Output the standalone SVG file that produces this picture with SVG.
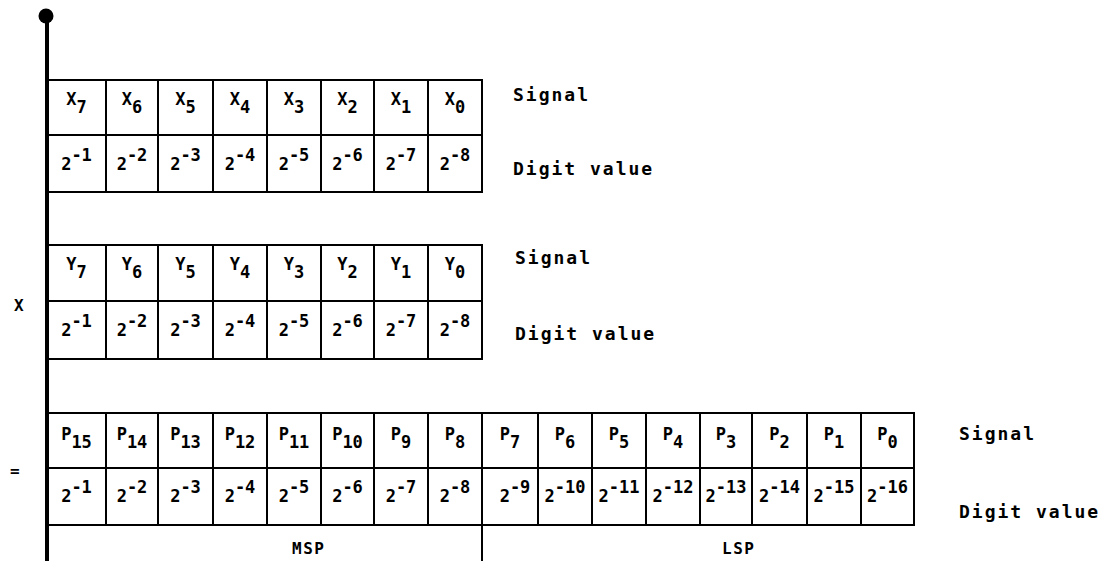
<svg xmlns="http://www.w3.org/2000/svg" width="1105" height="561" viewBox="0 0 1105 561">
<style>
.grid{fill:none;stroke:#000;stroke-width:2}
.t{font-family:"DejaVu Sans Mono","Liberation Mono",monospace;font-weight:bold;fill:#000}
.c{font-size:17px;text-anchor:middle}
.lab{font-size:18px;letter-spacing:2px}
.small{font-size:16px;letter-spacing:1.5px}
</style>
<rect width="1105" height="561" fill="#fff"/>
<g id="connectors">
<circle cx="46" cy="16" r="7.5" fill="#000"/>
<line x1="47" y1="16" x2="47" y2="561" stroke="#000" stroke-width="4"/>
<line x1="482" y1="525" x2="482" y2="561" stroke="#000" stroke-width="2"/>
</g>
<g id="x-register">
<rect class="grid" x="47" y="80" width="435" height="112"/>
<path class="grid" d="M47 135H482M106 80V192M158 80V192M213 80V192M267 80V192M321 80V192M374 80V192M428 80V192"/>
<g class="t c">
<text x="76.5" y="105">X<tspan dy="8">7</tspan></text>
<text x="132" y="105">X<tspan dy="8">6</tspan></text>
<text x="185.5" y="105">X<tspan dy="8">5</tspan></text>
<text x="240" y="105">X<tspan dy="8">4</tspan></text>
<text x="294" y="105">X<tspan dy="8">3</tspan></text>
<text x="347.5" y="105">X<tspan dy="8">2</tspan></text>
<text x="401" y="105">X<tspan dy="8">1</tspan></text>
<text x="455" y="105">X<tspan dy="8">0</tspan></text>
<text x="76.5" y="170">2<tspan dy="-9">-1</tspan></text>
<text x="132" y="170">2<tspan dy="-9">-2</tspan></text>
<text x="185.5" y="170">2<tspan dy="-9">-3</tspan></text>
<text x="240" y="170">2<tspan dy="-9">-4</tspan></text>
<text x="294" y="170">2<tspan dy="-9">-5</tspan></text>
<text x="347.5" y="170">2<tspan dy="-9">-6</tspan></text>
<text x="401" y="170">2<tspan dy="-9">-7</tspan></text>
<text x="455" y="170">2<tspan dy="-9">-8</tspan></text>
</g>
</g>
<g id="x-labels" class="t lab">
<text x="513" y="101">Signal</text>
<text x="513" y="175">Digit value</text>
</g>
<g id="y-register">
<rect class="grid" x="47" y="245" width="435" height="114"/>
<path class="grid" d="M47 301H482M106 245V359M158 245V359M213 245V359M267 245V359M321 245V359M374 245V359M428 245V359"/>
<g class="t c">
<text x="76.5" y="270">Y<tspan dy="8">7</tspan></text>
<text x="132" y="270">Y<tspan dy="8">6</tspan></text>
<text x="185.5" y="270">Y<tspan dy="8">5</tspan></text>
<text x="240" y="270">Y<tspan dy="8">4</tspan></text>
<text x="294" y="270">Y<tspan dy="8">3</tspan></text>
<text x="347.5" y="270">Y<tspan dy="8">2</tspan></text>
<text x="401" y="270">Y<tspan dy="8">1</tspan></text>
<text x="455" y="270">Y<tspan dy="8">0</tspan></text>
<text x="76.5" y="336">2<tspan dy="-9">-1</tspan></text>
<text x="132" y="336">2<tspan dy="-9">-2</tspan></text>
<text x="185.5" y="336">2<tspan dy="-9">-3</tspan></text>
<text x="240" y="336">2<tspan dy="-9">-4</tspan></text>
<text x="294" y="336">2<tspan dy="-9">-5</tspan></text>
<text x="347.5" y="336">2<tspan dy="-9">-6</tspan></text>
<text x="401" y="336">2<tspan dy="-9">-7</tspan></text>
<text x="455" y="336">2<tspan dy="-9">-8</tspan></text>
</g>
</g>
<g id="y-labels" class="t lab">
<text x="515" y="264">Signal</text>
<text x="515" y="340">Digit value</text>
</g>
<g id="p-register">
<rect class="grid" x="47" y="413" width="867" height="112"/>
<path class="grid" d="M47 468H914M106 413V525M158 413V525M213 413V525M267 413V525M321 413V525M374 413V525M428 413V525M482 413V525M538 413V525M592 413V525M646 413V525M700 413V525M752 413V525M807 413V525M861 413V525"/>
<g class="t c">
<text x="76.5" y="440">P<tspan dy="8">15</tspan></text>
<text x="132" y="440">P<tspan dy="8">14</tspan></text>
<text x="185.5" y="440">P<tspan dy="8">13</tspan></text>
<text x="240" y="440">P<tspan dy="8">12</tspan></text>
<text x="294" y="440">P<tspan dy="8">11</tspan></text>
<text x="347.5" y="440">P<tspan dy="8">10</tspan></text>
<text x="401" y="440">P<tspan dy="8">9</tspan></text>
<text x="455" y="440">P<tspan dy="8">8</tspan></text>
<text x="510" y="440">P<tspan dy="8">7</tspan></text>
<text x="565" y="440">P<tspan dy="8">6</tspan></text>
<text x="619" y="440">P<tspan dy="8">5</tspan></text>
<text x="673" y="440">P<tspan dy="8">4</tspan></text>
<text x="726" y="440">P<tspan dy="8">3</tspan></text>
<text x="779.5" y="440">P<tspan dy="8">2</tspan></text>
<text x="834" y="440">P<tspan dy="8">1</tspan></text>
<text x="887.5" y="440">P<tspan dy="8">0</tspan></text>
<text x="76.5" y="502">2<tspan dy="-9">-1</tspan></text>
<text x="132" y="502">2<tspan dy="-9">-2</tspan></text>
<text x="185.5" y="502">2<tspan dy="-9">-3</tspan></text>
<text x="240" y="502">2<tspan dy="-9">-4</tspan></text>
<text x="294" y="502">2<tspan dy="-9">-5</tspan></text>
<text x="347.5" y="502">2<tspan dy="-9">-6</tspan></text>
<text x="401" y="502">2<tspan dy="-9">-7</tspan></text>
<text x="455" y="502">2<tspan dy="-9">-8</tspan></text>
<text x="515" y="502">2<tspan dy="-9">-9</tspan></text>
<text x="565" y="502">2<tspan dy="-9">-10</tspan></text>
<text x="619" y="502">2<tspan dy="-9">-11</tspan></text>
<text x="673" y="502">2<tspan dy="-9">-12</tspan></text>
<text x="726" y="502">2<tspan dy="-9">-13</tspan></text>
<text x="779.5" y="502">2<tspan dy="-9">-14</tspan></text>
<text x="834" y="502">2<tspan dy="-9">-15</tspan></text>
<text x="887.5" y="502">2<tspan dy="-9">-16</tspan></text>
</g>
</g>
<g id="p-labels" class="t lab">
<text x="959" y="440">Signal</text>
<text x="959" y="518">Digit value</text>
</g>
<g id="part-labels" class="t small">
<text x="292" y="554">MSP</text>
<text x="722" y="554">LSP</text>
</g>
<g id="operators" class="t small">
<text x="14" y="311">X</text>
<text x="10" y="476">=</text>
</g>
</svg>
